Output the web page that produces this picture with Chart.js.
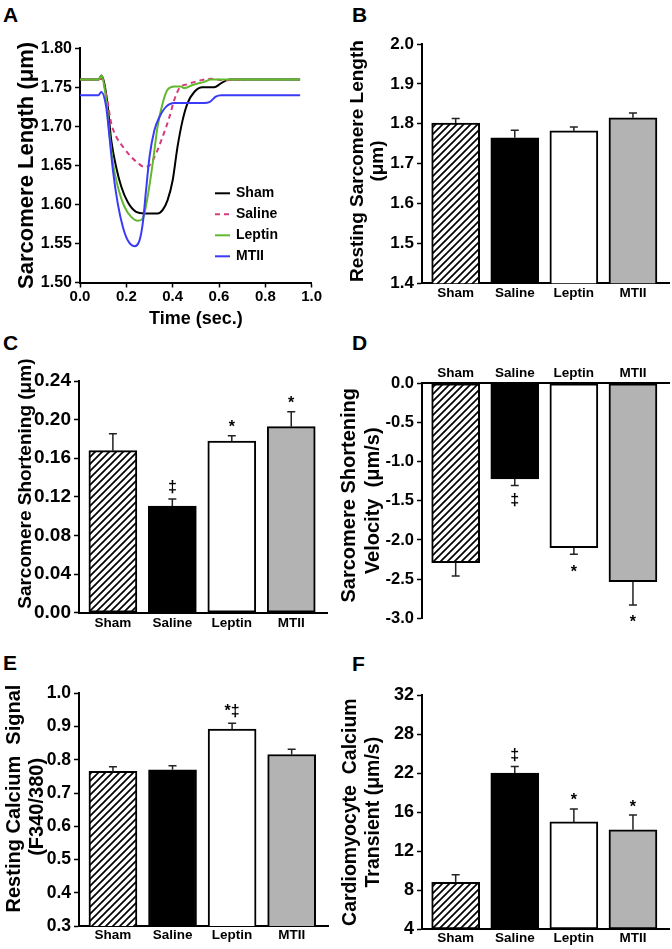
<!DOCTYPE html>
<html>
<head>
<meta charset="utf-8">
<script src="https://cdn.jsdelivr.net/npm/chart.js@4.4.0/dist/chart.umd.min.js"></script>
<style>
  body { margin: 0; background: #fff; width: 672px; height: 949px; position: relative; overflow: hidden;
         font-family: "Liberation Sans", Arial, sans-serif; }
  canvas { position: absolute; }
  .tag { position: absolute; font-weight: bold; font-size: 21px; line-height: 1; }
</style>
</head>
<body>
<div class="tag" style="left:3px;top:4px">A</div>
<div class="tag" style="left:352px;top:4px">B</div>
<div class="tag" style="left:3px;top:332px">C</div>
<div class="tag" style="left:352px;top:332px">D</div>
<div class="tag" style="left:3px;top:652px">E</div>
<div class="tag" style="left:352px;top:653px">F</div>

<canvas id="cA" width="336" height="332" style="left:0;top:0"></canvas>
<canvas id="cB" width="336" height="330" style="left:336px;top:0"></canvas>
<canvas id="cC" width="336" height="310" style="left:0;top:330px"></canvas>
<canvas id="cD" width="336" height="310" style="left:336px;top:330px"></canvas>
<canvas id="cE" width="336" height="309" style="left:0;top:640px"></canvas>
<canvas id="cF" width="336" height="309" style="left:336px;top:640px"></canvas>

<script>
const groups = ['Sham', 'Saline', 'Leptin', 'MTII'];

// Panel A: sarcomere length traces (time in sec, length in um)
const shamT   = [0, 0.08, 0.092, 0.105, 0.12, 0.135, 0.156, 0.178, 0.206, 0.242, 0.278, 0.335, 0.357, 0.378, 0.40, 0.421, 0.443, 0.464, 0.493, 0.529, 0.579, 0.608, 0.644, 0.70, 0.95];
const shamV   = [1.76, 1.76, 1.765, 1.755, 1.725, 1.682, 1.648, 1.623, 1.603, 1.5905, 1.5885, 1.5885, 1.593, 1.6055, 1.631, 1.674, 1.708, 1.7295, 1.744, 1.75, 1.75, 1.755, 1.76, 1.76, 1.76];
const salineT = [0, 0.08, 0.092, 0.115, 0.135, 0.156, 0.185, 0.221, 0.25, 0.278, 0.30, 0.328, 0.357, 0.386, 0.407, 0.429, 0.464, 0.522, 0.565, 0.62, 0.67, 0.71];
const salineV = [1.76, 1.76, 1.761, 1.738, 1.704, 1.687, 1.674, 1.661, 1.653, 1.648, 1.650, 1.665, 1.687, 1.712, 1.734, 1.749, 1.754, 1.759, 1.761, 1.759, 1.760, 1.759];
const leptinT = [0, 0.08, 0.092, 0.113, 0.127, 0.142, 0.163, 0.192, 0.221, 0.25, 0.271, 0.292, 0.314, 0.335, 0.357, 0.378, 0.407, 0.436, 0.45, 0.486, 0.536, 0.565, 0.95];
const leptinV = [1.76, 1.76, 1.765, 1.734, 1.691, 1.653, 1.623, 1.597, 1.584, 1.579, 1.582, 1.61, 1.653, 1.70, 1.73, 1.747, 1.751, 1.751, 1.749, 1.753, 1.757, 1.76, 1.76];
const mtiiT   = [0, 0.08, 0.092, 0.113, 0.127, 0.142, 0.163, 0.185, 0.206, 0.235, 0.257, 0.271, 0.285, 0.30, 0.321, 0.343, 0.371, 0.407, 0.536, 0.558, 0.586, 0.608, 0.95];
const mtiiV   = [1.74, 1.74, 1.744, 1.725, 1.687, 1.644, 1.601, 1.571, 1.554, 1.5465, 1.554, 1.576, 1.618, 1.661, 1.695, 1.712, 1.725, 1.730, 1.730, 1.731, 1.738, 1.74, 1.74];

// Panel B: resting sarcomere length
const restLen    = [1.802, 1.765, 1.782, 1.815];
const restLenErr = [1.813, 1.784, 1.792, 1.827];
// Panel C: sarcomere shortening
const shorten    = [0.1678, 0.1105, 0.1778, 0.1927];
const shortenErr = [0.1854, 0.1178, 0.1834, 0.2082];
const shortenSig = ['', '‡', '*', '*'];
// Panel D: shortening velocity
const velocity    = [-2.289, -1.221, -2.098, -2.532];
const velocityErr = [-2.46, -1.306, -2.183, -2.83];
const velocitySig = ['', '‡', '*', '*'];
// Panel E: resting calcium
const restCa    = [0.765, 0.770, 0.892, 0.816];
const restCaErr = [0.779, 0.782, 0.910, 0.832];
const restCaSig = ['', '', '*‡', ''];
// Panel F: calcium transient (axis labels are printed unevenly on even spacing)
const caTrans     = [8.8, 22, 15, 14.2];
const caTransErr  = [9.6, 23, 16.5, 15.7];
const caTransSig  = ['', '‡', '*', '*'];
const caTransTicks = [4, 8, 12, 16, 22, 28, 32];

const FONT = '"Liberation Sans", Arial, sans-serif';
Chart.defaults.font.family = FONT;
Chart.defaults.font.weight = 'bold';
Chart.defaults.color = '#000';
Chart.defaults.animation = false;

// put a value onto the evenly spaced tick positions of panel F
function onTicks(v) {
    for (let i = 0; i < caTransTicks.length - 1; i++) {
        const a = caTransTicks[i], b = caTransTicks[i + 1];
        if (v <= b) return i + (v - a) / (b - a);
    }
    return caTransTicks.length - 1;
}

function hatch() {
    const c = document.createElement('canvas');
    c.width = 7; c.height = 7;
    const g = c.getContext('2d');
    g.fillStyle = '#fff';
    g.fillRect(0, 0, 7, 7);
    g.strokeStyle = '#000';
    g.lineWidth = 1.7;
    g.beginPath();
    g.moveTo(-1, 8); g.lineTo(8, -1);
    g.moveTo(-1, 1); g.lineTo(1, -1);
    g.moveTo(6, 8); g.lineTo(8, 6);
    g.stroke();
    return g.createPattern(c, 'repeat');
}

const zip = (xs, ys) => xs.map((x, i) => ({ x: x, y: ys[i] }));

// error bars and significance marks
const errPlugin = {
    id: 'err',
    afterDatasetsDraw(chart, args, o) {
        const { ctx } = chart;
        const x = chart.scales.x, y = chart.scales.y;
        ctx.save();
        ctx.strokeStyle = '#222';
        ctx.lineWidth = 1.5;
        o.err.forEach((e, i) => {
            const px = x.getPixelForValue(i);
            const y0 = y.getPixelForValue(o.values[i]);
            const y1 = y.getPixelForValue(e);
            ctx.beginPath();
            ctx.moveTo(px, y0); ctx.lineTo(px, y1);
            ctx.moveTo(px - 4, y1); ctx.lineTo(px + 4, y1);
            ctx.stroke();
            const s = o.sig[i];
            if (s) {
                ctx.font = 'bold 16px ' + FONT;
                ctx.fillStyle = '#000';
                ctx.textAlign = 'center';
                ctx.textBaseline = 'alphabetic';
                const m = ctx.measureText(s);
                const cy = y1 > y0 ? y1 + 14 : y1 - 12;
                ctx.fillText(s, px, cy + (m.actualBoundingBoxAscent - m.actualBoundingBoxDescent) / 2);
            }
        });
        ctx.restore();
    }
};

function barPanel(id, o) {
    const fills = [hatch(), '#000', '#fff', '#b3b3b3'];
    new Chart(document.getElementById(id), {
        type: 'bar',
        data: {
            datasets: [{
                data: o.values.map((v, i) => ({ x: i, y: v })),
                backgroundColor: fills,
                borderColor: '#000',
                borderWidth: 2,
                borderSkipped: false,
                barThickness: 48
            }]
        },
        options: {
            responsive: false,
            layout: { padding: o.pad },
            plugins: {
                legend: { display: false },
                tooltip: { enabled: false },
                err: { values: o.values, err: o.err, sig: o.sig || ['', '', '', ''] }
            },
            scales: {
                x: {
                    type: 'linear',
                    position: o.top ? 'top' : 'bottom',
                    min: -0.57, max: 3.61,
                    offset: false,
                    grid: { display: false, drawTicks: false },
                    border: { display: true, color: '#000', width: 2 },
                    ticks: {
                        stepSize: 1, includeBounds: false, autoSkip: false, maxRotation: 0,
                        padding: o.xPad, font: { size: 13.5, weight: 'bold' },
                        callback: v => groups[v] ?? ''
                    },
                    afterFit: s => { s.height = o.xH; }
                },
                y: {
                    min: o.min, max: o.max,
                    ticks: { stepSize: o.step, font: { size: o.tickSize, weight: 'bold' }, callback: o.fmt },
                    grid: { drawOnChartArea: false, drawTicks: true, tickLength: 5, tickColor: '#000', tickWidth: 1.5 },
                    border: { color: '#000', width: 2 },
                    title: { display: true, text: o.title, padding: 0,
                             font: { size: o.titleSize, weight: 'bold', lineHeight: o.titleLH } },
                    afterFit: s => { s.width = o.yW; }
                }
            }
        },
        plugins: [errPlugin]
    });
}

// Panel A
const legendPlugin = {
    id: 'innerLegend',
    afterDraw(chart) {
        const { ctx, chartArea } = chart;
        ctx.save();
        ctx.font = 'bold 14px ' + FONT;
        ctx.textBaseline = 'middle';
        ctx.fillStyle = '#000';
        chart.data.datasets.forEach((ds, i) => {
            const yy = chartArea.top + 145 + i * 21;
            const xx = chartArea.left + 135;
            ctx.strokeStyle = ds.borderColor;
            ctx.lineWidth = 2;
            ctx.setLineDash(ds.borderDash || []);
            ctx.beginPath();
            ctx.moveTo(xx, yy); ctx.lineTo(xx + 15, yy);
            ctx.stroke();
            ctx.setLineDash([]);
            ctx.fillText(ds.label, xx + 21, yy);
        });
        ctx.restore();
    }
};

new Chart(document.getElementById('cA'), {
    type: 'line',
    data: {
        datasets: [
            { label: 'Sham', data: zip(shamT, shamV), borderColor: '#000', order: 4 },
            { label: 'Saline', data: zip(salineT, salineV), borderColor: '#d63b7c', borderDash: [5, 4], order: 3 },
            { label: 'Leptin', data: zip(leptinT, leptinV), borderColor: '#62b92e', order: 2 },
            { label: 'MTII', data: zip(mtiiT, mtiiV), borderColor: '#3b3bf7', order: 1 }
        ]
    },
    options: {
        responsive: false,
        layout: { padding: { left: 13.3, top: 48.3, right: 24.3, bottom: 2.2 } },
        elements: { point: { radius: 0 }, line: { borderWidth: 2, cubicInterpolationMode: 'monotone' } },
        plugins: { legend: { display: false }, tooltip: { enabled: false } },
        scales: {
            x: {
                type: 'linear', min: 0, max: 1,
                ticks: { stepSize: 0.2, padding: 0, font: { size: 15, weight: 'bold' }, callback: v => v.toFixed(1) },
                grid: { drawOnChartArea: false, drawTicks: true, tickLength: 5, tickColor: '#000', tickWidth: 1.5 },
                border: { color: '#000', width: 2 },
                title: { display: true, text: 'Time (sec.)', padding: 0, font: { size: 18, weight: 'bold' } },
                afterFit: s => { s.height = 47.3; }
            },
            y: {
                min: 1.5, max: 1.8,
                ticks: { stepSize: 0.05, font: { size: 16, weight: 'bold' }, callback: v => v.toFixed(2) },
                grid: { drawOnChartArea: false, drawTicks: true, tickLength: 5, tickColor: '#000', tickWidth: 1.5 },
                border: { color: '#000', width: 2 },
                title: { display: true, text: 'Sarcomere Length (μm)', padding: 0, font: { size: 22, weight: 'bold' } },
                afterFit: s => { s.width = 66.7; }
            }
        }
    },
    plugins: [legendPlugin]
});

barPanel('cB', {
    values: restLen, err: restLenErr,
    min: 1.4, max: 2.0, step: 0.1, fmt: v => v.toFixed(1), tickSize: 17,
    title: [' Resting Sarcomere Length', ' (μm)'], titleSize: 19, titleLH: '20px',
    yW: 74, xH: 20, xPad: 1.6,
    pad: { left: 12, top: 44, right: 3, bottom: 26.7 }
});

// leading spaces push the rotated titles up, as in the original figure
barPanel('cC', {
    values: shorten, err: shortenErr, sig: shortenSig,
    min: 0, max: 0.24, step: 0.04, fmt: v => v.toFixed(2), tickSize: 19,
    title: '     Sarcomere Shortening (μm)', titleSize: 19, titleLH: 1.2,
    yW: 64.6, xH: 20, xPad: 2.5,
    pad: { left: 14.4, top: 51, right: 8.5, bottom: 7.3 }
});

barPanel('cD', {
    values: velocity, err: velocityErr, sig: velocitySig, top: true,
    min: -3, max: 0, step: 0.5, fmt: v => v.toFixed(1), tickSize: 16.5,
    title: ['  Sarcomere Shortening', 'Velocity  (μm/s)'], titleSize: 20, titleLH: '24px',
    yW: 85, xH: 20, xPad: 1.9,
    pad: { left: 1, top: 33.3, right: 3, bottom: 21.7 }
});

barPanel('cE', {
    values: restCa, err: restCaErr, sig: restCaSig,
    min: 0.3, max: 1.0, step: 0.1, fmt: v => v.toFixed(1), tickSize: 17.5,
    title: ['    Resting Calcium  Signal', ' (F340/380)'], titleSize: 20, titleLH: '23px',
    yW: 76.5, xH: 20, xPad: 0.9,
    pad: { left: 2.5, top: 53.3, right: 8, bottom: 3 }
});

barPanel('cF', {
    values: caTrans.map(onTicks), err: caTransErr.map(onTicks), sig: caTransSig,
    min: 0, max: 6, step: 1, fmt: v => String(caTransTicks[v]), tickSize: 18,
    title: ['Cardiomyocyte  Calcium', 'Transient (μm/s)'], titleSize: 19.5, titleLH: '23.5px',
    yW: 83.25, xH: 19.7, xPad: 0.9,
    pad: { left: 2.75, top: 55, right: 3, bottom: 0 }
});
</script>
</body>
</html>
